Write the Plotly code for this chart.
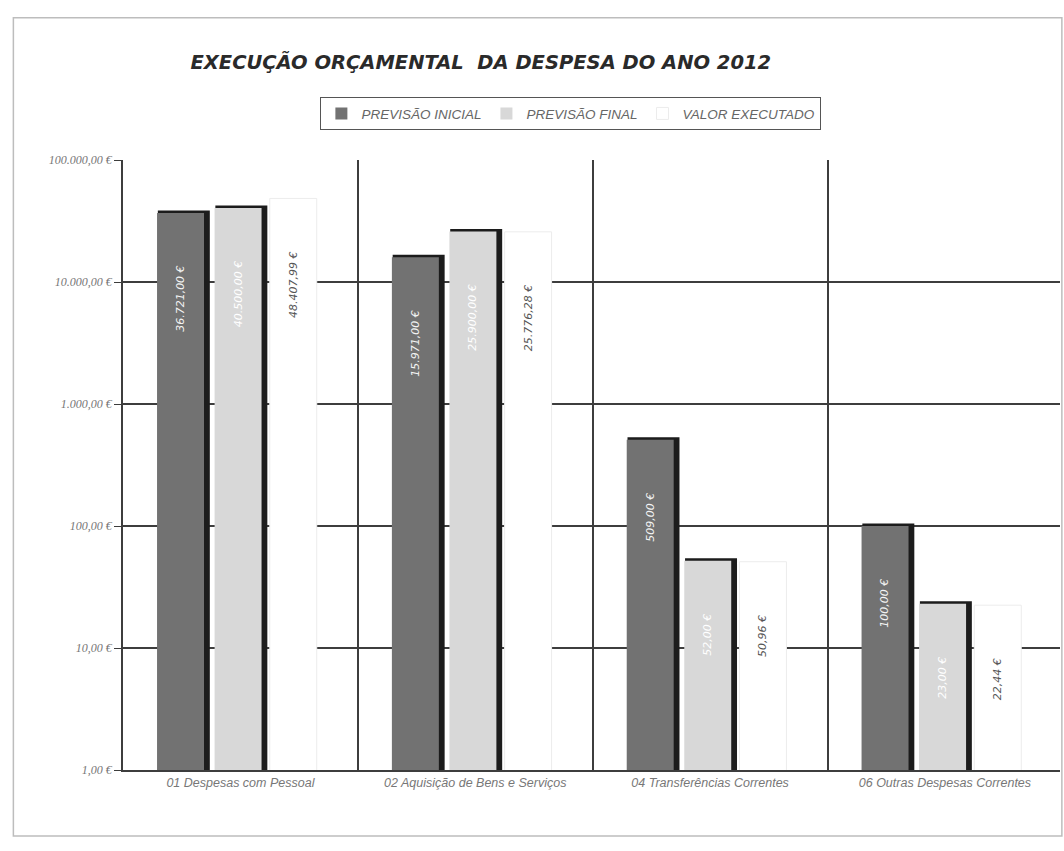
import math
import plotly.graph_objects as go

# ---- data -------------------------------------------------------------
categories = [
    "01 Despesas com Pessoal",
    "02 Aquisição de Bens e Serviços",
    "04 Transferências Correntes",
    "06 Outras Despesas Correntes",
]
previsao_inicial = [36721.00, 15971.00, 509.00, 100.00]
previsao_final = [40500.00, 25900.00, 52.00, 23.00]
valor_executado = [48407.99, 25776.28, 50.96, 22.44]

series_names = ["PREVISÃO INICIAL", "PREVISÃO FINAL", "VALOR EXECUTADO"]
y_tick_values = [1, 10, 100, 1000, 10000, 100000]


def fmt_eur(v):
    s = f"{v:,.2f}"
    s = s.replace(",", "X").replace(".", ",").replace("X", ".")
    return s + " €"


# ---- bar geometry (category units) ----------------------------------
BAR_W = 0.2
OFF_INI, OFF_FIN, OFF_EXE = -0.355, -0.11, 0.125
SHADOW_DX = 0.014
GRID = "#3d3d3d"

fig = go.Figure()

# dark shadow behind the two filled series (top + right edge)
for vals, off in ((previsao_inicial, OFF_INI), (previsao_final, OFF_FIN)):
    fig.add_trace(go.Bar(
        x=categories, y=vals, offset=off + SHADOW_DX, width=BAR_W,
        marker=dict(color="#1c1c1c", line=dict(color="#1c1c1c", width=5)),
        showlegend=False, hoverinfo="skip",
    ))

fig.add_trace(go.Bar(
    x=categories, y=previsao_inicial, name=series_names[0],
    offset=OFF_INI, width=BAR_W,
    marker=dict(color="#727272", line=dict(width=0)),
))
fig.add_trace(go.Bar(
    x=categories, y=previsao_final, name=series_names[1],
    offset=OFF_FIN, width=BAR_W,
    marker=dict(color="#d8d8d8", line=dict(width=0)),
))
fig.add_trace(go.Bar(
    x=categories, y=valor_executado, name=series_names[2],
    offset=OFF_EXE, width=BAR_W,
    marker=dict(color="#ffffff", line=dict(color="#ececec", width=1)),
))

# carrier for the secondary log axis that holds the horizontal grid
fig.add_trace(go.Scatter(
    x=[categories[0]], y=[1], yaxis="y2", mode="markers",
    marker=dict(opacity=0), showlegend=False, hoverinfo="skip",
))

# rotated value labels inside the bars
annotations = []
label_sets = [
    (previsao_inicial, OFF_INI, "#f4f4f4"),
    (previsao_final, OFF_FIN, "#ffffff"),
    (valor_executado, OFF_EXE, "#555555"),
]
for vals, off, col in label_sets:
    for i, v in enumerate(vals):
        annotations.append(dict(
            x=i + off + BAR_W / 2, xref="x",
            y=math.log10(v) - 0.42, yref="y",
            text=fmt_eur(v), textangle=-90, showarrow=False,
            yanchor="top", xanchor="center",
            font=dict(family="DejaVu Sans", size=11, color=col, style="italic"),
        ))

fig.update_layout(
    width=1064, height=851, autosize=False,
    paper_bgcolor="white", plot_bgcolor="white",
    margin=dict(l=123, r=4, t=160, b=81),
    barmode="overlay",
    title=dict(
        text="<b><i>EXECUÇÃO ORÇAMENTAL  DA DESPESA DO ANO 2012</i></b>",
        x=0.179, xanchor="left", y=0.927, yanchor="middle",
        font=dict(family="DejaVu Sans", size=19.5, color="#2a2a2a"),
    ),
    legend=dict(
        orientation="h", x=0.478, xanchor="center", y=1.103, yanchor="top",
        bordercolor="#555555", borderwidth=1, bgcolor="white", itemwidth=30,
        font=dict(family="Liberation Sans", size=13.5, color="#666666", style="italic"),
    ),
    xaxis=dict(
        type="category", categoryorder="array", categoryarray=categories,
        range=[-0.5, 3.49], tickson="boundaries", ticks="",
        showgrid=True, gridcolor=GRID, gridwidth=1.6,
        showline=True, linecolor=GRID, linewidth=1.8,
        tickfont=dict(family="Liberation Sans", size=12.5, color="#777777", style="italic"),
    ),
    yaxis=dict(
        type="log", range=[0, 5],
        tickvals=y_tick_values, ticktext=[fmt_eur(v) for v in y_tick_values],
        showgrid=False, ticks="outside", ticklen=7, tickcolor=GRID,
        showline=True, linecolor=GRID, linewidth=1.8,
        tickfont=dict(family="Liberation Serif", size=12, color="#777777", style="italic"),
    ),
    yaxis2=dict(
        type="log", range=[0, 5], overlaying="y", side="left",
        tickvals=y_tick_values[1:-1], showticklabels=False, ticks="",
        showgrid=True, gridcolor=GRID, gridwidth=1.6, showline=False,
        zeroline=False,
    ),
    annotations=annotations,
    shapes=[dict(
        type="rect", xref="paper", yref="paper",
        x0=-0.117, x1=1.002, y0=-0.108, y1=1.233,
        line=dict(color="#bdbdbd", width=1.5), layer="below",
    )],
)

fig.write_html("out.html")
